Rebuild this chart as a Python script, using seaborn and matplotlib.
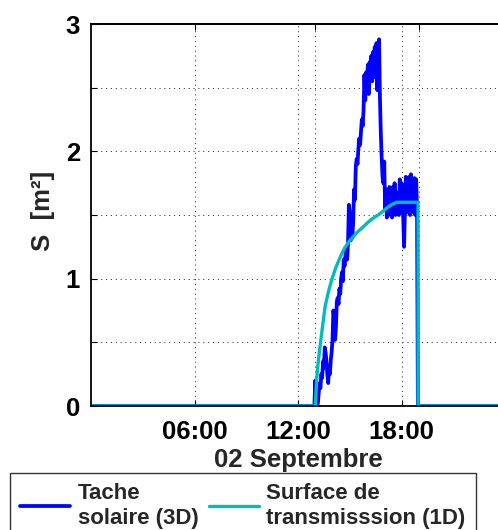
import numpy as np
import pandas as pd
import matplotlib
matplotlib.use("Agg")
import matplotlib.pyplot as plt
import seaborn as sns

# Tache solaire (3D): sunlit area, sampled every 3 min from 12:57 to 18:57
tache_start = 12.95
tache_step = 0.05
tache_vals = [
    0.00,
    # 13:00 - 13:57
    0.20, 0.00, 0.00, 0.02, 0.10, 0.18, 0.14, 0.25, 0.22, 0.35,
    0.30, 0.46, 0.42, 0.35, 0.25, 0.18, 0.30, 0.25, 0.36, 0.42,
    # 14:00 - 14:57
    0.52, 0.75, 0.70, 0.52, 0.62, 0.82, 0.85, 0.80, 0.92, 0.88,
    1.00, 1.05, 0.98, 1.15, 1.10, 1.18, 1.22, 1.15, 1.28, 1.58,
    # 15:00 - 15:57
    1.52, 1.30, 1.38, 1.32, 1.45, 1.70, 1.62, 1.88, 1.94, 1.90,
    2.02, 2.10, 2.05, 2.15, 2.25, 2.20, 2.32, 2.60, 2.40, 2.62,
    # 16:00 - 16:57
    2.55, 2.68, 2.45, 2.70, 2.60, 2.75, 2.55, 2.78, 2.65, 2.82,
    2.58, 2.85, 2.48, 2.80, 2.88, 2.42, 2.15, 1.95, 1.80, 1.75,
    # 17:00 - 17:57
    1.92, 1.55, 1.70, 1.48, 1.65, 1.50, 1.72, 1.52, 1.62, 1.48,
    1.72, 1.55, 1.75, 1.50, 1.68, 1.55, 1.62, 1.50, 1.78, 1.52,
    # 18:00 - 18:57
    1.75, 1.60, 1.48, 1.25, 1.55, 1.80, 1.52, 1.78, 1.55, 1.80,
    1.50, 1.82, 1.55, 1.75, 1.52, 1.79, 1.50, 1.78, 1.55, 0.00,
]

# Surface de transmission (1D)
trans_hours = [0.0, 13.00, 13.04, 13.08, 13.14, 13.20, 13.28, 13.40, 13.57,
               13.75, 13.95, 14.20, 14.45, 14.70, 15.00, 15.40, 15.80, 16.20,
               16.75, 17.10, 17.40, 17.70, 17.90, 18.96, 18.96, 24.0]
trans_vals = [0.0, 0.00, 0.10, 0.20, 0.30, 0.38, 0.47, 0.60, 0.78,
              0.89, 0.99, 1.09, 1.17, 1.24, 1.30, 1.36, 1.41, 1.46,
              1.51, 1.55, 1.58, 1.60, 1.60, 1.60, 0.00, 0.00]

xtick_hours = [6, 12, 18]
xtick_labels = ["06:00", "12:00", "18:00"]
top_tick_hours = [6, 13, 19]
ytick_vals = [0, 0.5, 1, 1.5, 2, 2.5, 3]
ytick_labels = ["0", "", "1", "", "2", "", "3"]

series_labels = ["Tache\nsolaire (3D)", "Surface de\ntransmisssion (1D)"]
series_colors = ["#0000FF", "#00BDBD"]

# assemble the sunlit-area series with its zero baseline before and after
tache_hours = [0.0] + [tache_start + tache_step * i for i in range(len(tache_vals))] + [24.0]
tache_full = [0.0] + tache_vals + [0.0]
df_tache = pd.DataFrame({"h": tache_hours, "S": tache_full})
df_trans = pd.DataFrame({"h": trans_hours, "S": trans_vals})

sns.set_theme(style="white")
plt.rcParams["font.family"] = ["Liberation Sans", "DejaVu Sans"]
plt.rcParams["font.weight"] = "bold"

fig = plt.figure(figsize=(4.98, 5.30), dpi=100)
ax = fig.add_axes([91 / 498, 1 - 406 / 530, 414 / 498, 382 / 530])

sns.lineplot(data=df_tache, x="h", y="S", ax=ax, color=series_colors[0],
             lw=2.7, estimator=None, sort=False, legend=False)
sns.lineplot(data=df_trans, x="h", y="S", ax=ax, color=series_colors[1],
             lw=2.4, estimator=None, sort=False, legend=False)
data_lines = list(ax.get_lines())

ax.set_xlim(0, 24)
ax.set_ylim(0, 3)

# dotted grid
grid_kw = dict(color="#222222", lw=0.7, linestyle=(0, (1, 4)), zorder=0)
for yv in ytick_vals[1:-1]:
    ax.axhline(yv, **grid_kw)
for xv in sorted(set(xtick_hours + top_tick_hours)):
    ax.axvline(xv, **grid_kw)

ax.set_xticks(xtick_hours)
ax.set_xticklabels(xtick_labels, fontsize=18.5, fontweight="bold")
ax.set_yticks(ytick_vals)
ax.set_yticklabels(ytick_labels, fontsize=18.5, fontweight="bold")
ax.tick_params(axis="x", direction="in", length=4, width=0.8, pad=10,
               bottom=True, top=False, colors="black")
ax.tick_params(axis="y", direction="in", length=4, width=0.8, pad=8,
               left=True, right=False, colors="black")

top = ax.secondary_xaxis("top")
top.set_xticks(top_tick_hours)
top.set_xticklabels([])
top.tick_params(direction="in", length=4, width=0.8, colors="black")
top.spines["top"].set_linewidth(1.3)
top.spines["top"].set_color("black")

for side in ["left", "bottom", "top"]:
    ax.spines[side].set_visible(True)
    ax.spines[side].set_color("black")
    ax.spines[side].set_linewidth(1.3)
ax.spines["right"].set_visible(False)

ax.set_xlabel("02 Septembre", fontsize=18.5, fontweight="bold", labelpad=3)
ax.set_ylabel("S  [m²]", fontsize=18.5, fontweight="bold")
ax.yaxis.set_label_coords(-0.088, 0.51)

leg = fig.legend(data_lines, series_labels, loc="upper left",
                 bbox_to_anchor=(10 / 498, 1 - 473 / 530),
                 bbox_transform=fig.transFigure, ncol=2,
                 prop={"weight": "bold", "size": 16},
                 frameon=True, fancybox=False, borderaxespad=0,
                 handlelength=2.25, handletextpad=0.35, columnspacing=0.45,
                 borderpad=0.45)
leg.get_frame().set_edgecolor("black")
leg.get_frame().set_linewidth(1.0)
for t in leg.get_texts():
    t.set_linespacing(1.25)

fig.savefig("out.png", dpi=100)
